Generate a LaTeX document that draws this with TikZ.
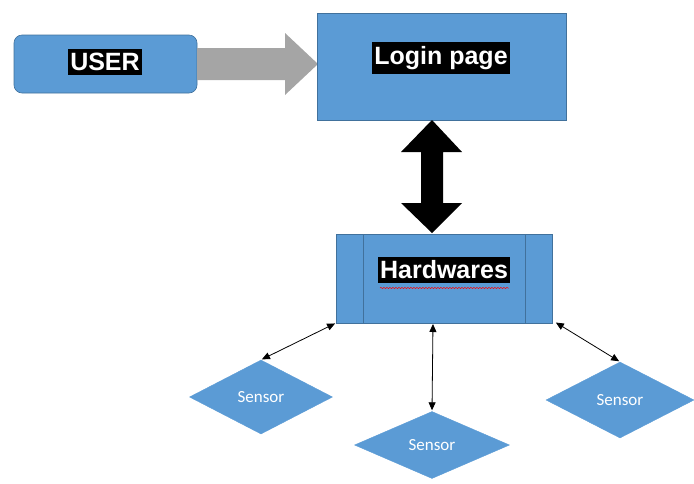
\documentclass[tikz,border=0pt]{standalone}
\usepackage{fontspec}
\setmainfont{Liberation Sans}
\newfontfamily\carlito{Carlito}
\usetikzlibrary{shapes.geometric,arrows.meta,decorations.pathmorphing}
\definecolor{boxblue}{HTML}{5B9BD5}
\definecolor{boxedge}{HTML}{41719C}
\definecolor{arrowgray}{HTML}{A5A5A5}
\tikzset{
  bluebox/.style={fill=boxblue, draw=boxedge, line width=0.6pt},
  darklabel/.style={fill=black, text=white, font=\bfseries\fontsize{25}{28}\selectfont, inner xsep=2pt, inner ysep=4pt},
  sensorshape/.style={diamond, fill=boxblue, draw=boxblue, aspect=2, inner sep=0pt, text=white, font=\carlito\fontsize{17}{19}\selectfont},
  thinlink/.style={{Triangle[width=7pt,length=8pt]}-{Triangle[width=7pt,length=8pt]}, line width=0.8pt, black, shorten <=1pt, shorten >=1pt}
}
\begin{document}
\begin{tikzpicture}[x=1pt,y=-1pt]
\useasboundingbox (0,0) rectangle (694,483);
% USER
\draw[bluebox, rounded corners=8pt] (14,35) rectangle (197,93);
\node[darklabel] (user) at (105,62) {USER};
% gray arrow
\fill[arrowgray] (197,48) -- (285,48) -- (285,33) -- (318,64) -- (285,95) -- (285,80) -- (197,80) -- cycle;
% Login page
\draw[bluebox] (317,13) rectangle (566,120);
\node[darklabel] (login) at (441,58) {Login page};
% black double arrow
\fill[black] (432,120) -- (462,152) -- (443,152) -- (443,203) -- (462,203) -- (432,233) -- (401,203) -- (421,203) -- (421,152) -- (401,152) -- cycle;
% Hardwares
\draw[bluebox] (336,234) rectangle (552,323);
\draw[boxedge, line width=0.6pt] (363,234) -- (363,323);
\draw[boxedge, line width=0.6pt] (525,234) -- (525,323);
\node[darklabel] (hw) at (444,270) {Hardwares};
\draw[red, line width=0.5pt, decorate, decoration={snake, amplitude=0.6pt, segment length=3pt}] (380,288) -- (509,288);
\coordinate (hwL) at (336,323);
\coordinate (hwM) at (433,323);
\coordinate (hwR) at (555,322);
% Sensors
\node[sensorshape, minimum width=143pt, minimum height=74pt] (s1) at (261,397) {Sensor};
\node[sensorshape, minimum width=155pt, minimum height=67pt] (s2) at (432,445) {Sensor};
\node[sensorshape, minimum width=148pt, minimum height=76pt] (s3) at (620,400) {Sensor};
\draw[thinlink] (hwL) -- (s1.north);
\draw[thinlink] (hwM) -- (s2.north);
\draw[thinlink] (hwR) -- (s3.north);
\end{tikzpicture}
\end{document}
